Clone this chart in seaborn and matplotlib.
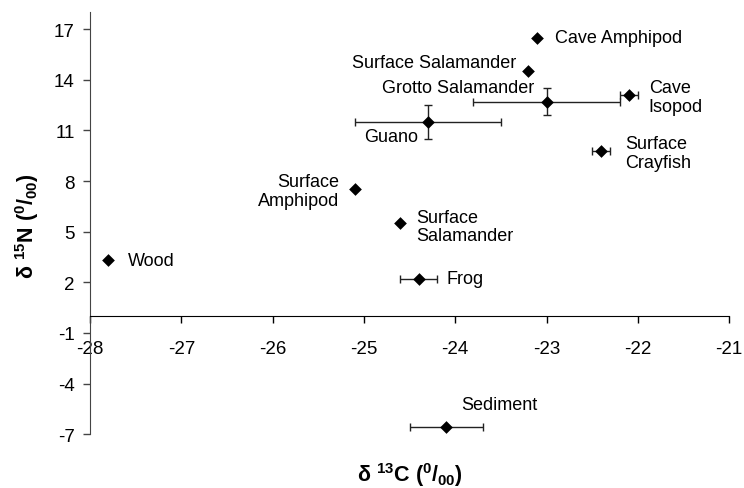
import numpy as np
import pandas as pd
import seaborn as sns
import matplotlib.pyplot as plt

# data
names = ['Cave Amphipod', 'Surface Salamander', 'Grotto Salamander', 'Cave\nIsopod',
         'Guano', 'Surface\nCrayfish', 'Surface\nAmphipod', 'Surface\nSalamander',
         'Wood', 'Frog', 'Sediment']
d13c = [-23.1, -23.2, -23.0, -22.1, -24.3, -22.4, -25.1, -24.6, -27.8, -24.4, -24.1]
d15n = [16.5, 14.5, 12.7, 13.1, 11.5, 9.8, 7.5, 5.5, 3.3, 2.2, -6.6]
c_err = [0.0, 0.0, 0.8, 0.1, 0.8, 0.1, 0.0, 0.0, 0.0, 0.2, 0.4]
n_err = [0.0, 0.0, 0.8, 0.0, 1.0, 0.0, 0.0, 0.0, 0.0, 0.0, 0.0]

x_ticks = [-28, -27, -26, -25, -24, -23, -22, -21]
y_ticks = [-7, -4, -1, 2, 5, 8, 11, 14, 17]

# label placement (pixel offset from marker, horizontal alignment)
label_pos = [(18, 0, 'left'), (-12, 9, 'right'), (-12, 14, 'right'), (20, -2, 'left'),
             (-10, -15, 'right'), (24, -2.5, 'left'), (-16, -1.5, 'right'), (16, -3.5, 'left'),
             (20, 0, 'left'), (28, 0, 'left'), (15, 23, 'left')]

df = pd.DataFrame({'name': names, 'd13C': d13c, 'd15N': d15n, 'xerr': c_err, 'yerr': n_err})

sns.set_style('ticks')
plt.rcParams['font.family'] = ['Liberation Sans', 'DejaVu Sans']
plt.rcParams['mathtext.default'] = 'regular'
plt.rcParams['axes.unicode_minus'] = False
plt.rcParams['text.color'] = 'black'
plt.rcParams['axes.labelcolor'] = 'black'
plt.rcParams['xtick.color'] = 'black'
plt.rcParams['ytick.color'] = 'black'

fig = plt.figure(figsize=(7.44, 4.89), dpi=100)
ax = fig.add_axes([0.121, 0.110, 0.859, 0.863])

# error bars first, markers on top
eb = df[(df.xerr > 0) | (df.yerr > 0)]
ax.errorbar(eb['d13C'], eb['d15N'], xerr=eb['xerr'], yerr=eb['yerr'].replace(0, np.nan),
            fmt='none', ecolor='#222222', elinewidth=1, capsize=3, capthick=1, zorder=2)
sns.scatterplot(data=df, x='d13C', y='d15N', marker='D', color='black', s=42,
                edgecolor='black', linewidth=0, ax=ax, zorder=3)

for i, row in df.iterrows():
    dx, dy, ha = label_pos[i]
    ax.annotate(row['name'], (row['d13C'], row['d15N']), xytext=(dx, dy),
                textcoords='offset pixels', ha=ha, va='center', fontsize=13,
                multialignment=ha, linespacing=1.12)

ax.set_xlim(-28, -21)
ax.set_ylim(-7, 18)
ax.set_xticks(x_ticks)
ax.set_yticks(y_ticks)
ax.spines['top'].set_visible(False)
ax.spines['right'].set_visible(False)
ax.spines['bottom'].set_position(('data', 0))
ax.spines['left'].set_color('#444444')
ax.spines['bottom'].set_color('black')
ax.tick_params(axis='x', direction='out', length=5, width=1, pad=12, labelsize=13.5)
ax.tick_params(axis='y', direction='out', length=5, width=1, pad=6, labelsize=13.5,
               color='#444444')

ax.set_xlabel(r'δ $^{13}$C ($^{0}$/$_{00}$)', fontsize=15.5, fontweight='bold')
ax.set_ylabel(r'δ $^{15}$N ($^{0}$/$_{00}$)', fontsize=15.5, fontweight='bold')
ax.xaxis.set_label_coords(0.50, -0.095)
ax.xaxis.label.set_va('center')
ax.yaxis.set_label_coords(-0.098, 0.495)
ax.yaxis.label.set_va('center')

fig.savefig('out.png', dpi=100)
